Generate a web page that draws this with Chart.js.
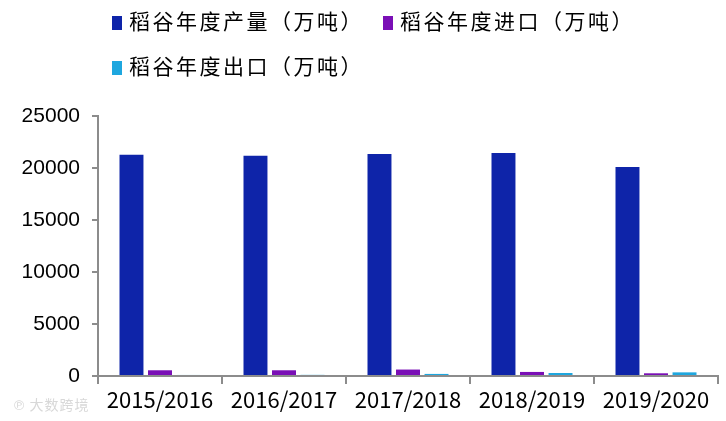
<!DOCTYPE html>
<html>
<head>
<meta charset="utf-8">
<script src="https://cdn.jsdelivr.net/npm/chart.js@4/dist/chart.umd.min.js"></script>
<style>
  html, body { margin: 0; padding: 0; background: #fff; }
  #wrap { position: relative; width: 726px; height: 421px; }
  canvas { position: absolute; left: 0; top: 0; }
  .leg { position: absolute; font-family: "Noto Sans CJK SC", sans-serif; font-size: 21px; letter-spacing: 2.5px; color: #000; white-space: nowrap; line-height: 24px; }
  .leg .box { display: inline-block; width: 10px; height: 14px; margin-right: 7px; vertical-align: -1px; }
  #wm { position: absolute; left: 14px; top: 394px; font-family: "Noto Sans CJK SC", sans-serif; font-size: 14px; color: #d8d8d8; letter-spacing: 1px; }
</style>
</head>
<body>
<div id="wrap">
  <canvas id="c" width="726" height="421"></canvas>
  <div id="legend"></div>
  <div id="wm">℗ 大数跨境</div>
</div>
<script>
const categories = ["2015/2016", "2016/2017", "2017/2018", "2018/2019", "2019/2020"];
const seriesNames = ["稻谷年度产量（万吨）", "稻谷年度进口（万吨）", "稻谷年度出口（万吨）"];
const production = [21280, 21180, 21350, 21440, 20100];
const imports = [550, 550, 620, 390, 260];
const exports = [100, 110, 200, 290, 350];
const yTicks = [0, 5000, 10000, 15000, 20000, 25000];
const colors = ["#0E24A9", "#7A0FB6", "#1EA7DF"];

const legendPos = [[112, 8], [383, 8], [112, 53]];
const legendEl = document.getElementById("legend");
seriesNames.forEach((n, i) => {
  const d = document.createElement("div");
  d.className = "leg";
  d.style.left = legendPos[i][0] + "px";
  d.style.top = legendPos[i][1] + "px";
  d.innerHTML = '<span class="box" style="background:' + colors[i] + '"></span>' + n;
  legendEl.appendChild(d);
});

const axisColor = "#8c8c8c";
new Chart(document.getElementById("c"), {
  type: "bar",
  data: {
    labels: categories,
    datasets: [
      { label: seriesNames[0], data: production, backgroundColor: colors[0] },
      { label: seriesNames[1], data: imports, backgroundColor: colors[1] },
      { label: seriesNames[2], data: exports, backgroundColor: colors[2] }
    ]
  },
  options: {
    responsive: false,
    animation: false,
    devicePixelRatio: 1,
    layout: { padding: { top: 116, right: 8, left: 0, bottom: 0 } },
    datasets: { bar: { categoryPercentage: 0.69, barPercentage: 0.84 } },
    plugins: { legend: { display: false }, tooltip: { enabled: false } },
    scales: {
      x: {
        offset: true,
        grid: { display: true, offset: true, drawOnChartArea: false, color: axisColor, tickLength: 8, lineWidth: 2 },
        border: { color: axisColor, width: 2 },
        ticks: { color: "#000", font: { family: "Noto Sans CJK SC", size: 22 }, padding: 2, maxRotation: 0 },
        afterFit: s => { s.height = 45; }
      },
      y: {
        min: 0, max: 25000,
        afterBuildTicks: s => { s.ticks = yTicks.map(v => ({ value: v })); },
        grid: { display: true, drawOnChartArea: false, color: axisColor, tickLength: 6, lineWidth: 2 },
        border: { color: axisColor, width: 2 },
        ticks: { color: "#000", font: { family: "Liberation Sans", size: 21 }, padding: 12, callback: v => String(v) },
        afterFit: s => { s.width = 98; }
      }
    }
  }
});
</script>
</body>
</html>
